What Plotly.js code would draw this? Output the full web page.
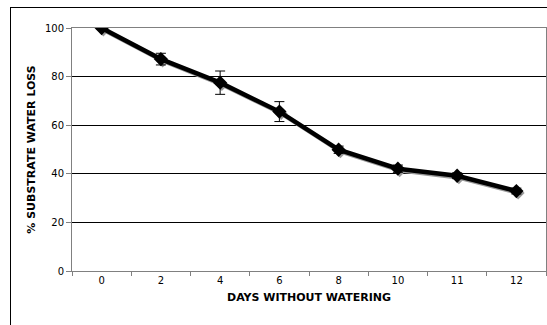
<!DOCTYPE html>
<html>
<head>
<meta charset="utf-8">
<script src="https://cdn.plot.ly/plotly-3.0.1.min.js"></script>
<style>
html,body{margin:0;padding:0;background:#fff;overflow:hidden;}
#chart{position:absolute;left:0;top:0;width:547px;height:325px;}
#frame{position:absolute;left:10px;top:7px;width:600px;height:400px;border-left:1px solid #000;border-top:1px solid #000;pointer-events:none;}
</style>
</head>
<body>
<div id="chart"></div>
<div id="frame"></div>
<script>
var days = ["0", "2", "4", "6", "8", "10", "11", "12"];
var waterLoss = [100, 87.2, 77.5, 65.6, 49.9, 42.1, 39.2, 32.9];
var errorVals = [0.6, 2.4, 4.8, 4.1, 1.5, 1.5, 1.2, 1.2];

var font = "DejaVu Sans, Verdana, sans-serif";
var shadowDx = 0.03, shadowDy = 0.8;

var shadow = {
  x: days, y: waterLoss, type: "scatter", mode: "lines+markers",
  xaxis: "x", yaxis: "y",
  line: {color: "#9a9a9a", width: 4},
  marker: {symbol: "diamond", size: 10, color: "#9a9a9a"},
  hoverinfo: "skip", showlegend: false
};
var main = {
  x: days, y: waterLoss, type: "scatter", mode: "lines+markers",
  xaxis: "x2", yaxis: "y2",
  line: {color: "#000", width: 4.5},
  marker: {symbol: "diamond", size: 11, color: "#000"},
  error_y: {type: "data", array: errorVals, visible: true, color: "#000", thickness: 1, width: 5},
  showlegend: false
};

var layout = {
  width: 547, height: 325,
  margin: {l: 72, r: 1, t: 28, b: 54},
  paper_bgcolor: "#fff", plot_bgcolor: "#fff",
  font: {family: font, size: 10, color: "#000"},
  xaxis: {
    type: "category", range: [-0.5 - shadowDx, 7.5 - shadowDx],
    visible: false, showgrid: false, zeroline: false
  },
  yaxis: {
    range: [shadowDy, 100 + shadowDy],
    visible: false, showgrid: false, zeroline: false
  },
  xaxis2: {
    type: "category", overlaying: "x", side: "bottom", range: [-0.5, 7.5],
    showline: true, linecolor: "#808080", linewidth: 1, mirror: true,
    ticks: "outside", tickson: "boundaries", ticklen: 4, tickcolor: "#808080",
    showgrid: false, zeroline: false,
    tickfont: {family: font, size: 10, color: "#000"},
    title: {text: "<b>DAYS WITHOUT WATERING</b>", font: {family: font, size: 11, color: "#000"}, standoff: 8}
  },
  yaxis2: {
    overlaying: "y", side: "left", range: [0, 100], dtick: 20,
    showline: true, linecolor: "#808080", linewidth: 1, mirror: true,
    ticks: "outside", ticklen: 5, tickcolor: "#808080",
    showgrid: true, gridcolor: "#000", gridwidth: 1, zeroline: false,
    tickfont: {family: font, size: 10, color: "#000"},
    title: {text: "<b>% SUBSTRATE WATER LOSS</b>", font: {family: font, size: 11, color: "#000"}, standoff: 7}
  }
};

Plotly.newPlot("chart", [shadow, main], layout, {staticPlot: true, displayModeBar: false});
</script>
</body>
</html>
